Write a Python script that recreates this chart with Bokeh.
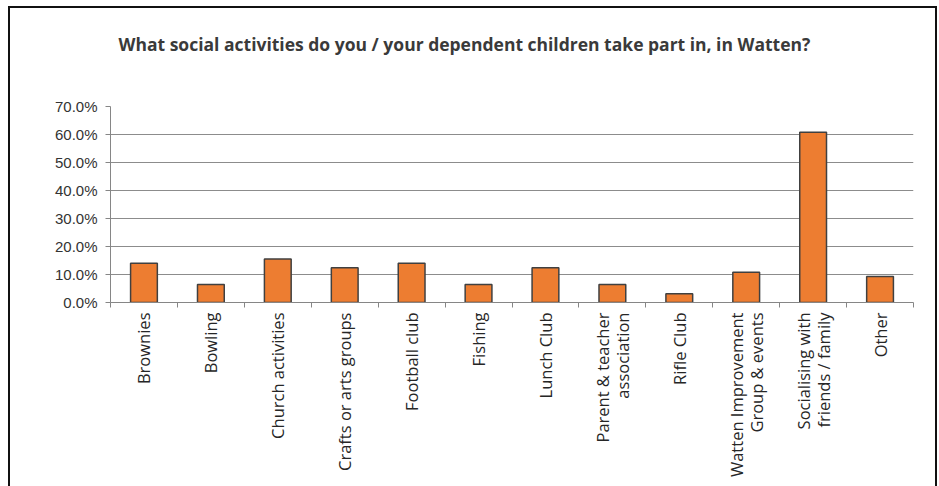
import math
from bokeh.plotting import figure
from bokeh.models import FixedTicker, Range1d, Title
from bokeh.embed import file_html
from bokeh.resources import INLINE

title_text = "What social activities do you / your dependent children take part in, in Watten?"
categories = ["Brownies", "Bowling", "Church activities", "Crafts or arts groups",
              "Football club", "Fishing", "Lunch Club", "Parent & teacher\nassociation",
              "Rifle Club", "Watten Improvement\nGroup & events",
              "Socialising with\nfriends / family", "Other"]
values = [14.0, 6.4, 15.5, 12.4, 14.0, 6.4, 12.4, 6.4, 3.1, 10.8, 60.8, 9.3]
y_ticks = [0, 10, 20, 30, 40, 50, 60, 70]

n = len(categories)
centers = [i + 0.5 for i in range(n)]

p = figure(width=925, height=478, output_backend="svg", toolbar_location=None,
           title_location=None,
           x_range=Range1d(0, n), y_range=Range1d(0, 70),
           min_border_left=100, min_border_right=22, min_border_top=98,
           min_border_bottom=184)
p.margin = (8, 0, 0, 10)
p.styles = {"outline": "2.5px solid #111111", "outline-offset": "0px"}
p.outline_line_color = None
p.background_fill_color = "white"
p.border_fill_color = "white"

# spacer between frame and title, then the title itself
spacer = Title(text=" ", text_font_size="10px", standoff=20)
p.add_layout(spacer, "above")
title = Title(text=title_text, align="left", offset=8, standoff=35,
              text_font="Open Sans", text_font_style="bold", text_font_size="17.5px",
              text_color="#3a3a3a")
p.add_layout(title, "above")

p.vbar(x=centers, top=values, width=0.40, bottom=0,
       fill_color="#ED7D31", line_color="#404040", line_width=1.5)

# x axis
p.xaxis.ticker = FixedTicker(ticks=centers, minor_ticks=list(range(n + 1)))
p.xaxis.major_label_overrides = {c: lab for c, lab in zip(centers, categories)}
p.xaxis.major_label_orientation = math.pi / 2
p.xaxis.major_tick_out = 0
p.xaxis.major_tick_in = 0
p.xaxis.minor_tick_out = 5
p.xaxis.minor_tick_in = 0
p.xaxis.minor_tick_line_color = "#868686"
p.xaxis.axis_line_color = "#868686"
p.xaxis.major_label_text_font = "Open Sans"
p.xaxis.major_label_text_font_size = "16.5px"
p.xaxis.major_label_text_color = "#262626"
p.xaxis.major_label_text_line_height = 0.88
p.xaxis.major_label_standoff = 5

# y axis
p.yaxis.ticker = FixedTicker(ticks=y_ticks, minor_ticks=[])
p.yaxis.major_label_overrides = {t: f"{t:.1f}%" for t in y_ticks}
p.yaxis.major_tick_out = 5
p.yaxis.major_tick_in = 0
p.yaxis.major_tick_line_color = "#868686"
p.yaxis.axis_line_color = "#868686"
p.yaxis.major_label_text_font = "Liberation Sans"
p.yaxis.major_label_text_font_size = "15px"
p.yaxis.major_label_text_color = "#333333"
p.yaxis.major_label_standoff = 8

p.xgrid.grid_line_color = None
p.ygrid.ticker = FixedTicker(ticks=y_ticks[1:])
p.ygrid.grid_line_color = "#8c8c8c"
p.ygrid.grid_line_width = 1

open("out.html", "w").write(file_html(p, INLINE))
